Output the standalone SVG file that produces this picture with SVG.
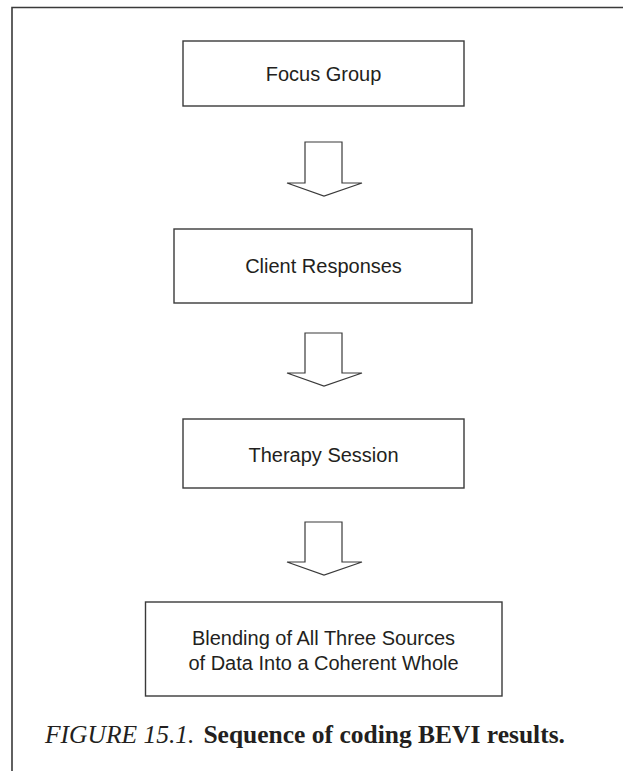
<svg xmlns="http://www.w3.org/2000/svg" width="623" height="771" viewBox="0 0 623 771">
<style>
.frame{fill:none;stroke:#3a3a3a;stroke-width:1.6}
.box{fill:#fff;stroke:#3a3a3a;stroke-width:1.4}
.arr{fill:#fff;stroke:#3a3a3a;stroke-width:1.2;stroke-linejoin:miter}
.lbl{font-family:"Liberation Sans",Arial,sans-serif;font-size:20px;fill:#231f20;text-anchor:middle}
.cap{font-family:"Liberation Serif","Times New Roman",serif;font-size:25.5px;fill:#231f20}
</style>
<rect width="623" height="771" fill="#fff"/>
<path class="frame" d="M12,771 V7.5 H623"/>
<g id="focus-group">
<rect class="box" x="183" y="41" width="281" height="65"/>
<text class="lbl" x="323.5" y="81">Focus Group</text>
</g>
<g id="client-responses">
<rect class="box" x="174" y="229" width="298" height="74"/>
<text class="lbl" x="323.5" y="273">Client Responses</text>
</g>
<g id="therapy-session">
<rect class="box" x="183" y="419" width="281" height="69"/>
<text class="lbl" x="323.5" y="462">Therapy Session</text>
</g>
<g id="blending">
<rect class="box" x="145.5" y="602" width="356.5" height="94"/>
<text class="lbl" x="323.5" y="645">Blending of All Three Sources</text>
<text class="lbl" x="323.5" y="670">of Data Into a Coherent Whole</text>
</g>
<g id="connectors">
<path class="arr" d="M305,142 H342 V183 H362 L324,196 L287,183 H305 Z"/>
<path class="arr" d="M305,333 H342 V373 H362 L324,386 L287,373 H305 Z"/>
<path class="arr" d="M305,522 H342 V562 H362 L324,575 L287,562 H305 Z"/>
</g>
<text class="cap" x="45" y="743"><tspan font-style="italic">FIGURE 15.1.</tspan><tspan font-weight="bold" dx="9">Sequence of coding BEVI results.</tspan></text>
</svg>
